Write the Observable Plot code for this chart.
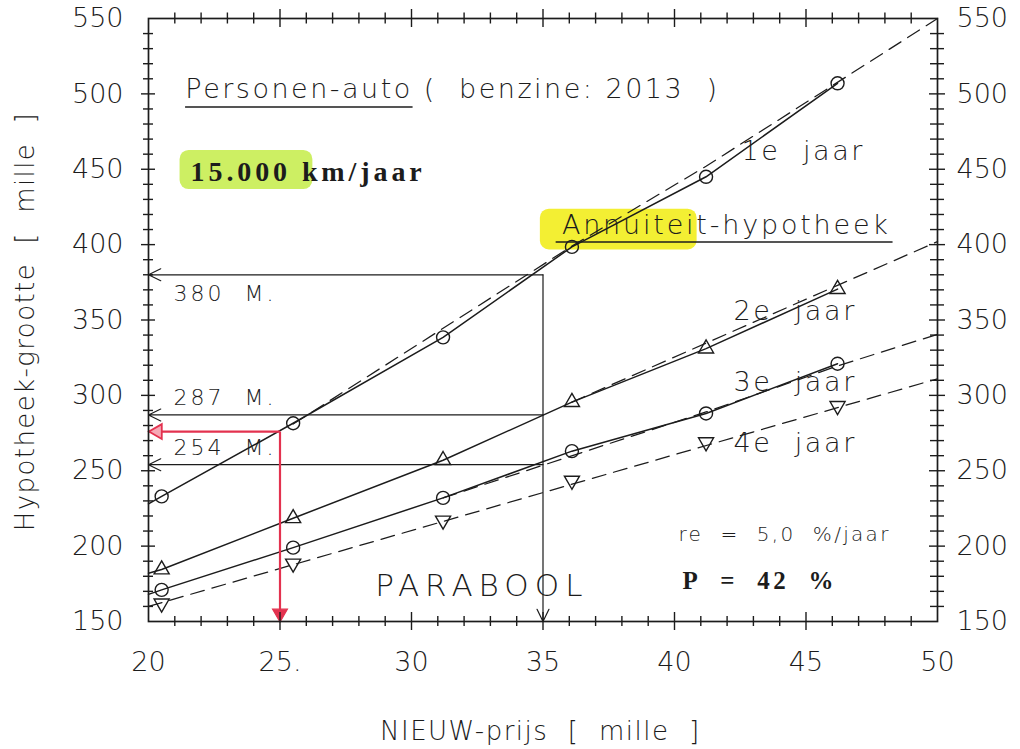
<!DOCTYPE html>
<html><head><meta charset="utf-8">
<script src="https://cdn.jsdelivr.net/npm/d3@7"></script>
<script src="https://cdn.jsdelivr.net/npm/@observablehq/plot@0.6"></script>
<style>
html,body{margin:0;padding:0;background:#fff;}
#chart svg{display:block;}
</style></head><body><div id="chart"></div>
<script>
// ---------- data ----------
const priceX = [20.5, 25.5, 31.2, 36.1, 41.2, 46.2];      // NIEUW-prijs [mille]
const year1 = [233, 281.5, 338.5, 398.5, 445, 507];       // 1e jaar (circles)
const year2 = [184.5, 218.5, 257, 295.5, 331, 370.5];     // 2e jaar (triangles)
const year3 = [171, 199, 232, 263, 288, 321];             // 3e jaar (circles)
const year4 = [162, 188.5, 217, 243.5, 269, 293];         // 4e jaar (down triangles)
const solidStartX = 20;
const solidStartY = [228, 182, 168];                      // solid curves at left edge (1e,2e,3e)
const dash1X = [25.5, 36.1, 41.2, 50],   dash1Y = [281, 399, 452, 550];
const dash2X = [36.1, 46.2, 50],         dash2Y = [295.5, 373, 402];
const dash3X = [31.2, 41.2, 46.2, 50],   dash3Y = [232, 289, 319.5, 340.5];
const dash4X = [20, 50],                 dash4Y = [160, 311];
const readPrice = 35;
const readValues = [380, 287, 254];
const redPrice = 25, redValue = 276;
const xMajor = [20, 25, 30, 35, 40, 45, 50];
const xLabels = ["20", "25.", "30", "35", "40", "45", "50"];
const yMajor = [150, 200, 250, 300, 350, 400, 450, 500, 550];
const yLabels = ["150", "200", "250", "300", "350", "400", "450", "500", "550"];

// ---------- layout ----------
const W = 1020, H = 749, ML = 148, MR = 83, MT = 18, MB = 128;
const XD = [20, 50], YD = [150, 550];
const uX = (XD[1] - XD[0]) / (W - ML - MR);
const uY = (YD[1] - YD[0]) / (H - MT - MB);
const ink = "#1c1c1c", red = "#e3324f";
const sans = "DejaVu Sans", serif = "Liberation Serif";

const zip = (xs, ys) => xs.map((x, i) => ({x, y: ys[i]}));
const pts1 = zip(priceX, year1), pts2 = zip(priceX, year2), pts3 = zip(priceX, year3), pts4 = zip(priceX, year4);
const solid1 = [{x: solidStartX, y: solidStartY[0]}, ...pts1];
const solid2 = [{x: solidStartX, y: solidStartY[1]}, ...pts2];
const solid3 = [{x: solidStartX, y: solidStartY[2]}, ...pts3];
const dashes = [zip(dash1X, dash1Y), zip(dash2X, dash2Y), zip(dash3X, dash3Y), zip(dash4X, dash4Y)];

const xMinor = d3.range(XD[0], XD[1] + 1, 1).filter(v => !xMajor.includes(v));
const yMinor = d3.range(YD[0], YD[1] + 1, 10).filter(v => !yMajor.includes(v));
const xInner = xMajor.slice(1, -1), yInner = yMajor.slice(1, -1);

const S3 = Math.sqrt(3);
const triDown = {draw(c, size) { const y = Math.sqrt(size / (3 * S3)); c.moveTo(0, 2 * y); c.lineTo(-S3 * y, -y); c.lineTo(S3 * y, -y); c.closePath(); }};
const triLeft = {draw(c, size) { const y = Math.sqrt(size / (3 * S3)); c.moveTo(-2 * y, 0); c.lineTo(y, -S3 * y); c.lineTo(y, S3 * y); c.closePath(); }};

const tickX = (vals, y0, half, sw = 1.4) => Plot.ruleX(vals, {x: d => d, y1: y0 - half * uY, y2: y0 + half * uY, stroke: ink, strokeWidth: sw});
const tickY = (vals, x0, half, sw = 1.4) => Plot.ruleY(vals, {y: d => d, x1: x0 - half * uX, x2: x0 + half * uX, stroke: ink, strokeWidth: sw});

const yTitle = "Hypotheek-grootte\u00a0\u00a0[\u00a0\u00a0mille\u00a0\u00a0]";
const xTitle = "NIEUW-prijs\u00a0\u00a0[\u00a0\u00a0mille\u00a0\u00a0]";
const notes = [
  {text: "Personen-auto (\u00a0 benzine: 2013\u00a0 )", x: 21.4, y: 497.3, size: 27, font: sans, ls: 2.5},
  {text: "15.000 km/jaar", x: 21.6, y: 442, size: 28, font: serif, weight: "bold", ls: 3.9},
  {text: "Annuiteit-hypotheek", x: 35.72, y: 406.8, size: 27, font: sans, ls: 2.8},
  {text: "1e\u00a0\u00a0jaar", x: 42.55, y: 455.9, size: 27, font: sans, ls: 2.6},
  {text: "2e\u00a0\u00a0jaar", x: 42.24, y: 349.7, size: 27, font: sans, ls: 2.6},
  {text: "3e\u00a0\u00a0jaar", x: 42.24, y: 302.7, size: 27, font: sans, ls: 2.6},
  {text: "4e\u00a0\u00a0jaar", x: 42.24, y: 262.2, size: 27, font: sans, ls: 2.6},
  {text: "380\u00a0\u00a0M.", x: 20.95, y: 362.5, size: 22, font: sans, ls: 3},
  {text: "287\u00a0\u00a0M.", x: 20.95, y: 293.9, size: 22, font: sans, ls: 3},
  {text: "254\u00a0\u00a0M.", x: 20.95, y: 260.7, size: 22, font: sans, ls: 3},
  {text: "PARABOOL", x: 28.62, y: 167, size: 31, font: sans, ls: 6},
  {text: "re\u00a0\u00a0=\u00a0\u00a05,0\u00a0\u00a0%/jaar", x: 40.15, y: 203.6, size: 20, font: sans, ls: 2.3},
  {text: "P\u00a0\u00a0=\u00a0\u00a042\u00a0\u00a0%", x: 40.3, y: 171.5, size: 25, font: serif, weight: "bold", ls: 3.4}
];
const underlines = [
  {x1: 21.41, x2: 30.06, y: 491.3},
  {x1: 35.5, x2: 48.31, y: 401.7}
];
const highlights = [
  {x1: 21.2, x2: 26.25, y1: 436.5, y2: 462.5, fill: "#cdef63"},
  {x1: 34.9, x2: 40.86, y1: 396.5, y2: 423.5, fill: "#f3ef33"}
];

const marks = [
  Plot.rect(highlights, {x1: "x1", x2: "x2", y1: "y1", y2: "y2", fill: "fill", rx: 9}),
  // reference lines with arrows
  Plot.arrow(readValues.map(v => ({v})), {x1: readPrice, y1: "v", x2: XD[0], y2: "v", stroke: ink, strokeWidth: 1.2, headLength: 17, headAngle: 52}),
  Plot.arrow([{v: readValues[0]}], {x1: readPrice, y1: "v", x2: readPrice, y2: YD[0], stroke: ink, strokeWidth: 1.2, headLength: 17, headAngle: 52}),
  // curves
  ...dashes.map(d => Plot.line(d, {x: "x", y: "y", stroke: ink, strokeWidth: 1.25, strokeDasharray: "14,8"})),
  ...[solid1, solid2, solid3].map(d => Plot.line(d, {x: "x", y: "y", stroke: ink, strokeWidth: 1.5})),
  Plot.dot(pts1, {x: "x", y: "y", r: 6.5, stroke: ink, strokeWidth: 1.4, fill: "none"}),
  Plot.dot(pts2, {x: "x", y: "y", r: 5.6, symbol: "triangle", stroke: ink, strokeWidth: 1.4, fill: "none"}),
  Plot.dot(pts3, {x: "x", y: "y", r: 6.5, stroke: ink, strokeWidth: 1.4, fill: "none"}),
  Plot.dot(pts4, {x: "x", y: "y", r: 5.6, symbol: triDown, stroke: ink, strokeWidth: 1.4, fill: "none"}),
  // red hand-drawn arrows
  Plot.link([{a: 1}], {x1: redPrice, y1: redValue, x2: XD[0], y2: redValue, stroke: red, strokeWidth: 2.2}),
  Plot.link([{a: 1}], {x1: redPrice, y1: redValue, x2: redPrice, y2: YD[0] + 6 * uY, stroke: red, strokeWidth: 2.2}),
  Plot.dot([{a: 1}], {x: XD[0], y: redValue, dx: 9, r: 5.5, symbol: triLeft, stroke: red, strokeWidth: 1.8, fill: "#f6a9b6"}),
  Plot.dot([{a: 1}], {x: redPrice, y: YD[0], dy: -8, r: 5.5, symbol: triDown, stroke: red, strokeWidth: 1.2, fill: red}),
  // underlines
  Plot.ruleY(underlines, {y: "y", x1: "x1", x2: "x2", stroke: ink, strokeWidth: 1.5}),
  // frame and ticks
  Plot.frame({stroke: ink, strokeWidth: 1.7}),
  tickX(xMinor, YD[0], 5), tickX(xInner, YD[0], 9),
  tickX(xMinor, YD[1], 5.5), tickX(xInner, YD[1], 9),
  tickY(yMinor, XD[0], 5), tickY(yInner, XD[0], 7),
  tickY(yMinor, XD[1], 7), tickY(yInner, XD[1], 8),
  Plot.axisX({anchor: "bottom", ticks: xMajor, tickFormat: d => xLabels[xMajor.indexOf(d)], tickSize: 0, tickPadding: 30, fontSize: 27, label: null}),
  Plot.axisY({anchor: "left", ticks: yMajor, tickFormat: d => yLabels[yMajor.indexOf(d)], tickSize: 0, tickPadding: 25, fontSize: 27, label: null}),
  Plot.axisY({anchor: "right", ticks: yMajor, tickFormat: d => yLabels[yMajor.indexOf(d)], tickSize: 0, tickPadding: 19, fontSize: 27, label: null}),
  // axis titles
  Plot.text([{t: yTitle}], {text: "t", x: XD[0] - 123 * uX, y: 349, rotate: -90, fontSize: 26, textAnchor: "middle", lineAnchor: "middle", fill: ink}),
  Plot.text([{t: xTitle}], {text: "t", x: 34.9, y: YD[0] - 110 * uY, fontSize: 26, textAnchor: "middle", lineAnchor: "middle", fill: ink}),
  ...notes.map(n => Plot.text([n], {x: "x", y: "y", text: "text", fontSize: n.size, fontFamily: n.font, fontWeight: n.weight, textAnchor: "start", lineAnchor: "bottom", fill: ink}))
];

const svg = Plot.plot({
  width: W, height: H,
  marginLeft: ML, marginRight: MR, marginTop: MT, marginBottom: MB,
  x: {domain: XD},
  y: {domain: YD},
  style: "font-family: 'DejaVu Sans'; font-weight: 300; color: #1c1c1c; background: #fff; overflow: visible;",
  marks
});
// letter spacing, matched on the text content
const spacing = new Map(notes.map(n => [n.text, n.ls]));
spacing.set(yTitle, 1.4); spacing.set(xTitle, 1.5);
svg.querySelectorAll("text").forEach(t => {
  const s = spacing.get(t.textContent);
  if (s != null) t.style.letterSpacing = s + "px";
});
document.getElementById("chart").appendChild(svg);
</script></body></html>
